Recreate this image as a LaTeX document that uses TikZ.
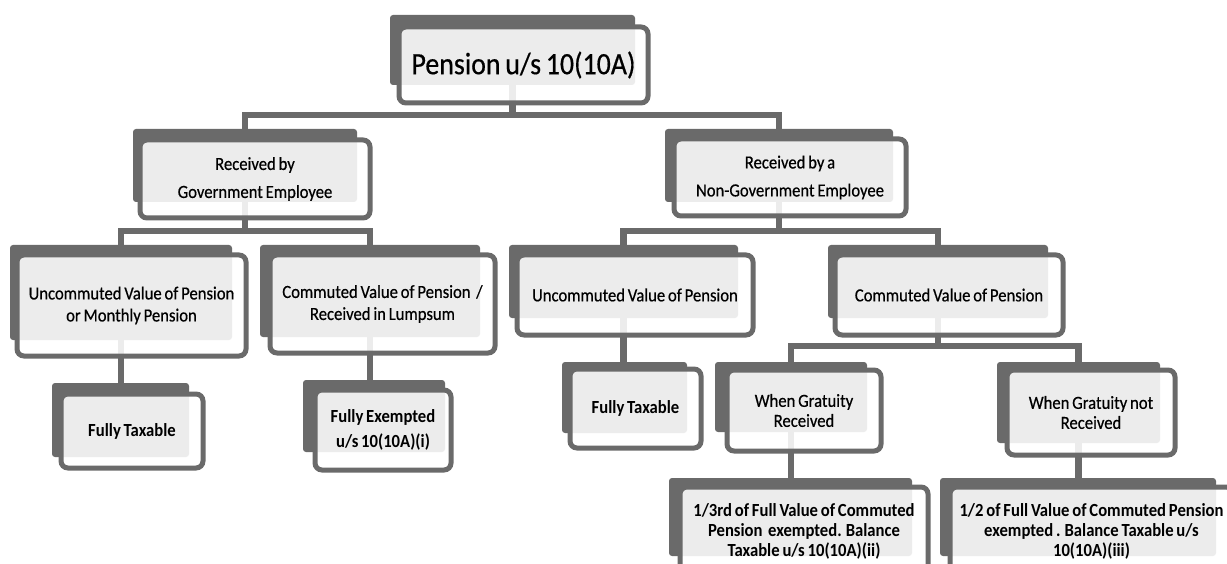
\documentclass[tikz,border=0pt]{standalone}
\usepackage{fontspec}
\setmainfont{Carlito}[FakeStretch=0.9,WordSpace=0.75]
\newfontfamily\boxfont{Carlito}[FakeStretch=0.9,WordSpace=0.75,FakeBold=0.5]
\usetikzlibrary{fit}
\definecolor{boxgray}{RGB}{106,106,106}
\tikzset{
  backbox/.style={fill=boxgray, draw=none, rounded corners=3pt, inner sep=0pt},
  frontbox/.style={fill=white, fill opacity=0.88, draw=boxgray, line width=5pt,
    rounded corners=7pt, inner sep=0pt},
  txt/.style={align=center, inner sep=0pt, text=black,
    font=\boxfont\fontsize{18.5}{22}\selectfont},
  leaf/.style={font=\fontsize{18.5}{20}\selectfont\bfseries},
  linkline/.style={draw=boxgray, line width=6.5pt}
}
% dark back panel: #1 name, #2-#3 corners
\newcommand\backpanel[3]{\node[backbox, fit={#2 #3}] (#1) {};}
% framed front panel with its text: #1 text options, #2 name, #3-#4 corners, #5 text
\newcommand\frontpanel[5][]{%
  \node[frontbox, fit={#3 #4}] (#2-f) {};
  \node[txt, #1] (#2-t) at (#2-f.center) {#5};
}
\begin{document}
\begin{tikzpicture}[x=1pt, y=-1pt]
\fill[white] (0,0) rectangle (1227,564);
\useasboundingbox (0,0) rectangle (1227,564);

% back panels
\backpanel{root}{(390,15)}{(635,85)}
\backpanel{gov}{(133,129)}{(357,202)}
\backpanel{ngov}{(665,129)}{(893,202)}
\backpanel{ucg}{(10,245)}{(232,340)}
\backpanel{cg}{(260,245)}{(480,337)}
\backpanel{ucn}{(509,245)}{(738,318)}
\backpanel{cn}{(828,245)}{(1048,318)}
\backpanel{ftg}{(52,383)}{(189,457)}
\backpanel{fe}{(303,380)}{(445,452)}
\backpanel{ftn}{(562,362)}{(687,433)}
\backpanel{wg}{(715,362)}{(867,432)}
\backpanel{wng}{(997,362)}{(1160,443)}
\backpanel{third}{(669,478)}{(912,556)}
\backpanel{half}{(940,478)}{(1216,556)}

% connectors
\path[linkline] (root.south) -- ++(0,30) -| (gov.north);
\path[linkline] (root.south) -- ++(0,30) -| (ngov.north);
\path[linkline] (gov.south) -- ++(0,29) -| (ucg.north);
\path[linkline] (gov.south) -- ++(0,29) -| (cg.north);
\path[linkline] (ngov.south) -- ++(0,29) -| (ucn.north);
\path[linkline] (ngov.south) -- ++(0,29) -| (cn.north);
\path[linkline] (ucg.south) -- (ucg.south |- ftg.north);
\path[linkline] (cg.south) -- (cg.south |- fe.north);
\path[linkline] (ucn.south) -- (ucn.south |- ftn.north);
\path[linkline] (cn.south) -- ++(0,28) -| (wg.north);
\path[linkline] (cn.south) -- ++(0,28) -| (wng.north);
\path[linkline] (wg.south) -- (wg.south |- third.north);
\path[linkline] (wng.south) -- (wng.south |- half.north);

% framed panels with text
\frontpanel[font=\boxfont\fontsize{31}{34}\selectfont]{root}{(399,27)}{(648,103)}{Pension u/s 10(10A)}
\frontpanel[font=\boxfont\fontsize{18.5}{28}\selectfont]{gov}{(140,140)}{(370,218)}{Received by\\Government Employee}
\frontpanel[font=\boxfont\fontsize{18.5}{28}\selectfont]{ngov}{(674,139)}{(906,216)}{Received by a\\Non-Government Employee}
\frontpanel{ucg}{(17,255)}{(246,356)}{Uncommuted Value of Pension\\or Monthly Pension}
\frontpanel{cg}{(270,255)}{(495,353)}{Commuted Value of Pension\ \ /\\Received in Lumpsum}
\frontpanel{ucn}{(517,255)}{(753,335)}{Uncommuted Value of Pension}
\frontpanel{cn}{(835,255)}{(1063,335)}{Commuted Value of Pension}
\frontpanel[leaf]{ftg}{(61,394)}{(203,468)}{Fully Taxable}
\frontpanel[font=\fontsize{18.5}{25}\selectfont\bfseries]{fe}{(315,390)}{(451,470)}{Fully Exempted\\u/s 10(10A)(i)}
\frontpanel[leaf]{ftn}{(570,369)}{(701,448)}{Fully Taxable}
\frontpanel[font=\boxfont\fontsize{18.5}{20}\selectfont]{wg}{(727,370)}{(881,451)}{When Gratuity\\Received}
\frontpanel[font=\boxfont\fontsize{18.5}{20}\selectfont]{wng}{(1007,370)}{(1175,455)}{When Gratuity not\\Received}
\frontpanel[leaf]{third}{(680,487)}{(928,575)}{1/3rd of Full Value of Commuted\\Pension\ \ exempted. Balance\\Taxable u/s 10(10A)(ii)}
\frontpanel[leaf]{half}{(950,487)}{(1233,575)}{1/2 of Full Value of Commuted Pension\\exempted . Balance Taxable u/s\\10(10A)(iii)}
\end{tikzpicture}
\end{document}
